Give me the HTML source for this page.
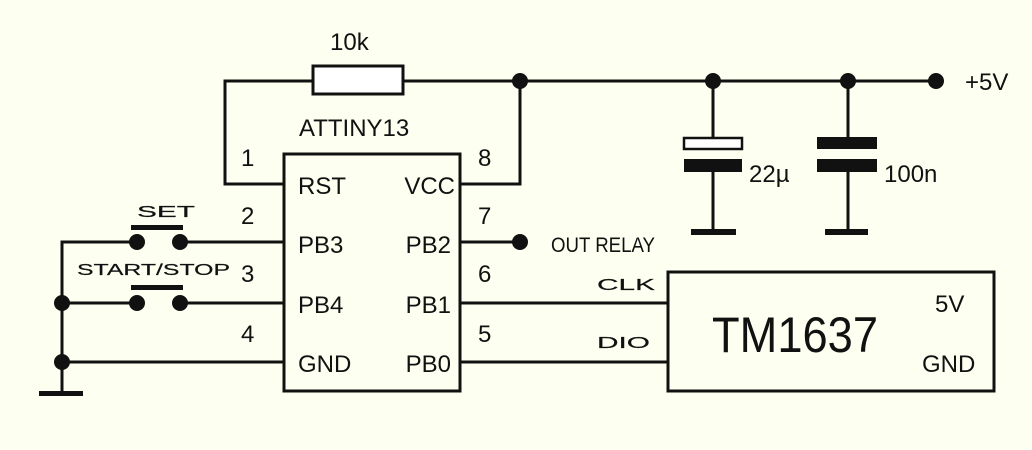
<!DOCTYPE html>
<html><head><meta charset="utf-8"><style>
html,body{margin:0;padding:0;background:#fdfff0;}
svg{display:block}
text{font-family:"Liberation Sans",Arial,sans-serif;fill:#111}
</style></head><body>
<svg width="1032" height="450" viewBox="0 0 1032 450" xmlns="http://www.w3.org/2000/svg">
<rect width="1032" height="450" fill="#fdfff0"/>
<g stroke="#111" stroke-width="3" fill="none">
<polyline points="313,81 225,81 225,184 284,184"/>
<line x1="403" y1="81" x2="936" y2="81"/>
<polyline points="460,184 520,184 520,81"/>
<rect x="313" y="66" width="90" height="28" fill="#fff"/>
<rect x="284" y="154" width="176" height="237"/>
<line x1="182" y1="242" x2="284" y2="242"/>
<line x1="182" y1="303" x2="284" y2="303"/>
<polyline points="137,242 62,242 62,393"/>
<line x1="62" y1="303" x2="137" y2="303"/>
<line x1="62" y1="362" x2="284" y2="362"/>
<line x1="460" y1="242" x2="520" y2="242"/>
<line x1="460" y1="303" x2="668" y2="303"/>
<line x1="460" y1="362" x2="668" y2="362"/>
<line x1="713" y1="81" x2="713" y2="137"/>
<line x1="713" y1="172" x2="713" y2="232"/>
<line x1="848" y1="81" x2="848" y2="137"/>
<line x1="848" y1="172" x2="848" y2="232"/>
<rect x="668" y="272" width="326" height="119"/>
</g>
<g fill="#111">
<rect x="39" y="391" width="44" height="5"/>
<rect x="131" y="225" width="52" height="5"/>
<rect x="131" y="285" width="52" height="5"/>
<rect x="684" y="138" width="58" height="11" fill="#fff" stroke="#111" stroke-width="2.5"/>
<rect x="684" y="159" width="58" height="13"/>
<rect x="817" y="137" width="60" height="12"/>
<rect x="817" y="159" width="60" height="13"/>
<rect x="691" y="229" width="45" height="6"/>
<rect x="825" y="229" width="43" height="6"/>
<circle cx="520" cy="81" r="8"/><circle cx="713" cy="81" r="8"/>
<circle cx="848" cy="81" r="8"/><circle cx="936" cy="81" r="8"/>
<circle cx="520" cy="242" r="8"/>
<circle cx="137" cy="242" r="8"/><circle cx="180" cy="242" r="8"/>
<circle cx="137" cy="303" r="8"/><circle cx="180" cy="303" r="8"/>
<circle cx="62" cy="303" r="8"/><circle cx="62" cy="362" r="8"/>
</g>
<g font-size="24">
<text x="330" y="50">10k</text>
<text x="299" y="136">ATTINY13</text>
<text x="241" y="166">1</text><text x="241" y="224">2</text><text x="241" y="282">3</text><text x="241" y="342">4</text>
<text x="478" y="166">8</text><text x="478" y="224">7</text><text x="478" y="282">6</text><text x="478" y="342">5</text>
<text x="298" y="194">RST</text><text x="298" y="253">PB3</text><text x="298" y="313">PB4</text><text x="298" y="372">GND</text>
<text x="455" y="194" text-anchor="end">VCC</text><text x="451" y="253" text-anchor="end">PB2</text><text x="451" y="313" text-anchor="end">PB1</text><text x="451" y="372" text-anchor="end">PB0</text>
<text x="749" y="182">22µ</text><text x="884" y="182">100n</text>
<text x="965" y="90">+5V</text>
<text x="935" y="312">5V</text><text x="922" y="372">GND</text>
</g>
<g font-size="16" stroke="#111" stroke-width="0.2">
<text x="137" y="217" textLength="58" lengthAdjust="spacingAndGlyphs">SET</text>
<text x="77" y="275" textLength="153" lengthAdjust="spacingAndGlyphs">START/STOP</text>
<text x="597" y="290" textLength="58" lengthAdjust="spacingAndGlyphs">CLK</text>
<text x="597" y="348" textLength="53" lengthAdjust="spacingAndGlyphs">DIO</text>
</g>
<text x="551" y="252" font-size="21" textLength="104" lengthAdjust="spacingAndGlyphs">OUT RELAY</text>
<text x="712" y="352" font-size="50" textLength="166" lengthAdjust="spacingAndGlyphs">TM1637</text>
</svg>
</body></html>
